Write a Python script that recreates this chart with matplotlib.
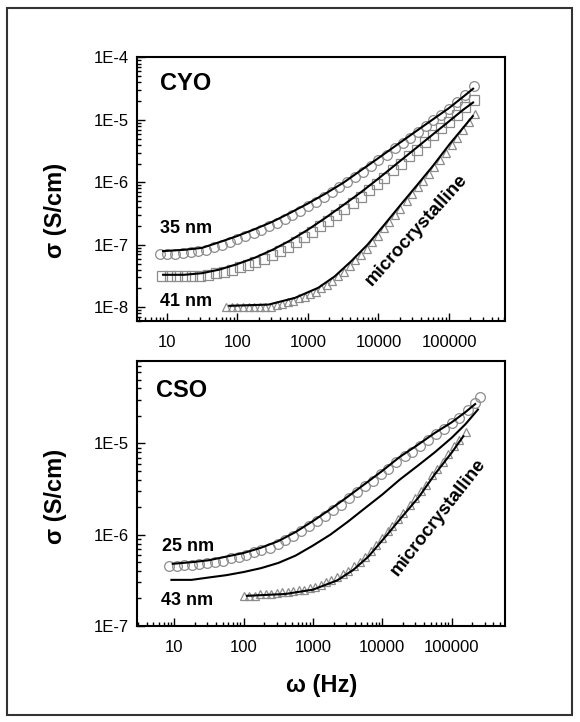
import math
import matplotlib
matplotlib.use("Agg")
import matplotlib.pyplot as plt
from matplotlib.patches import Rectangle
from matplotlib.ticker import FuncFormatter, LogLocator, NullFormatter

plt.rcParams['font.family'] = ['Liberation Sans', 'DejaVu Sans']

# ---------------- CYO panel (top) ----------------
# fit lines
fit_x = [8.9, 17.8, 31.6, 56, 100, 178, 316, 562, 1000, 1780, 3160, 5620, 10000,
         17800, 31600, 56200, 100000, 158000, 219000]
cyo35_fit_y = [7.9e-8, 8.3e-8, 8.9e-8, 1.10e-7, 1.38e-7, 1.78e-7, 2.34e-7, 3.24e-7, 4.57e-7,
               6.6e-7, 9.8e-7, 1.55e-6, 2.45e-6, 3.9e-6, 6.2e-6, 9.8e-6, 1.55e-5, 2.34e-5, 3.16e-5]
cyo41_fit_y = [3.3e-8, 3.3e-8, 3.5e-8, 4.0e-8, 4.9e-8, 6.2e-8, 8.3e-8, 1.17e-7, 1.74e-7,
               2.7e-7, 4.3e-7, 6.9e-7, 1.15e-6, 1.95e-6, 3.3e-6, 5.6e-6, 9.5e-6, 1.45e-5, 1.9e-5]

cyo_mc_fit_x = [77, 279, 658, 1400, 2390, 4080, 6980, 11900, 20400, 34900, 59700, 102000, 217000]
cyo_mc_fit_y = [1.05e-8, 1.1e-8, 1.41e-8, 2.04e-8, 3.1e-8, 5.4e-8, 1.0e-7, 2.04e-7, 4.3e-7,
                8.9e-7, 1.86e-6, 4.1e-6, 1.15e-5]

# measured points
cyo35_x = [8, 10, 13, 17, 22, 28, 36, 47, 60, 78, 100, 130, 170, 220, 280, 360, 470,
           600, 780, 1000, 1300, 1700, 2200, 2800, 3600, 4700, 6000, 7800, 10000, 13000,
           17000, 22000, 28000, 36000, 47000, 60000, 78000, 100000, 130000, 170000, 225000]
cyo35_y = [7.1e-8, 7.1e-8, 7.2e-8, 7.4e-8, 7.6e-8, 7.8e-8, 8.3e-8, 9.1e-8, 1.0e-7, 1.12e-7,
           1.23e-7, 1.38e-7, 1.55e-7, 1.74e-7, 2.0e-7, 2.24e-7, 2.57e-7, 3.0e-7, 3.5e-7, 4.1e-7,
           4.9e-7, 5.9e-7, 6.9e-7, 8.3e-7, 1.0e-6, 1.23e-6, 1.48e-6, 1.82e-6, 2.24e-6, 2.75e-6,
           3.5e-6, 4.3e-6, 5.2e-6, 6.5e-6, 7.9e-6, 1.0e-5, 1.2e-5, 1.48e-5, 1.9e-5, 2.5e-5, 3.5e-5]

cyo41_x = [8.5, 11, 14, 18, 23, 30, 39, 50, 65, 85, 110, 140, 180, 240, 310, 400, 520, 680,
           880, 1150, 1500, 1950, 2500, 3300, 4300, 5600, 7300, 9500, 12000, 16000, 21000,
           27000, 35000, 46000, 60000, 78000, 100000, 130000, 170000, 225000]
cyo41_y = [3.2e-8, 3.2e-8, 3.2e-8, 3.1e-8, 3.2e-8, 3.2e-8, 3.3e-8, 3.5e-8, 3.6e-8, 4.0e-8,
           4.4e-8, 4.8e-8, 5.2e-8, 6.0e-8, 6.8e-8, 7.9e-8, 9.3e-8, 1.1e-7, 1.32e-7, 1.62e-7,
           2.0e-7, 2.4e-7, 2.95e-7, 3.7e-7, 4.6e-7, 5.9e-7, 7.4e-7, 9.5e-7, 1.17e-6, 1.55e-6,
           2.0e-6, 2.6e-6, 3.3e-6, 4.4e-6, 5.75e-6, 7.4e-6, 9.3e-6, 1.2e-5, 1.58e-5, 2.1e-5]

cyo_mc_x = [70, 85, 100, 120, 145, 175, 210, 250, 300, 360, 430, 520, 620, 750, 900, 1080,
            1300, 1550, 1850, 2200, 2700, 3200, 3900, 4700, 5600, 6800, 8200, 9800, 12000,
            14000, 17000, 20000, 25000, 30000, 36000, 43000, 52000, 62000, 75000, 90000,
            110000, 130000, 160000, 190000, 230000]
cyo_mc_y = [1.0e-8, 1.0e-8, 1.0e-8, 1.02e-8, 1.02e-8, 1.02e-8, 1.02e-8, 1.02e-8, 1.02e-8,
            1.07e-8, 1.12e-8, 1.2e-8, 1.26e-8, 1.38e-8, 1.48e-8, 1.62e-8, 1.78e-8, 2.0e-8,
            2.3e-8, 2.6e-8, 3.1e-8, 3.7e-8, 4.6e-8, 5.6e-8, 6.9e-8, 8.5e-8, 1.1e-7, 1.38e-7,
            1.82e-7, 2.3e-7, 2.95e-7, 3.7e-7, 5.1e-7, 6.6e-7, 8.3e-7, 1.05e-6, 1.38e-6, 1.74e-6,
            2.3e-6, 2.95e-6, 4.0e-6, 5.1e-6, 6.9e-6, 9.3e-6, 1.26e-5]

# ---------------- CSO panel (bottom) ----------------
cso25_fit_x = [9.5, 17.8, 31.6, 56, 100, 178, 316, 562, 1000, 1780, 3160, 5620, 10000,
               17800, 31600, 56200, 100000, 158000, 219000]
cso25_fit_y = [4.8e-7, 5.0e-7, 5.25e-7, 5.75e-7, 6.3e-7, 7.2e-7, 8.5e-7, 1.07e-6, 1.41e-6,
               1.9e-6, 2.6e-6, 3.6e-6, 5.0e-6, 7.1e-6, 9.5e-6, 1.29e-5, 1.7e-5, 2.2e-5, 2.7e-5]

cso43_fit_x = [9.1, 17.8, 31.6, 56, 100, 178, 316, 562, 1000, 1780, 3160, 5620, 10000,
               17800, 31600, 56200, 100000, 158000, 240000]
cso43_fit_y = [3.2e-7, 3.2e-7, 3.4e-7, 3.6e-7, 3.9e-7, 4.3e-7, 4.9e-7, 5.9e-7, 7.6e-7,
               1.0e-6, 1.38e-6, 1.95e-6, 2.75e-6, 4.0e-6, 5.6e-6, 7.9e-6, 1.15e-5, 1.62e-5, 2.35e-5]

cso_mc_fit_x = [112, 398, 1000, 2240, 3800, 6300, 11500, 19000, 33900, 56200, 100000, 148000]
cso_mc_fit_y = [2.14e-7, 2.24e-7, 2.5e-7, 3.16e-7, 4.1e-7, 5.75e-7, 9.8e-7, 1.55e-6, 2.6e-6,
                4.5e-6, 7.9e-6, 1.2e-5]

cso25_x = [8.5, 11, 14, 18, 23, 30, 39, 50, 65, 85, 110, 140, 180, 240, 310, 400, 520, 680,
           880, 1150, 1500, 1950, 2500, 3300, 4300, 5600, 7300, 9500, 12000, 16000, 21000,
           27000, 35000, 46000, 60000, 78000, 100000, 130000, 170000, 220000, 260000]
cso25_y = [4.5e-7, 4.5e-7, 4.6e-7, 4.7e-7, 4.8e-7, 4.9e-7, 5.0e-7, 5.2e-7, 5.5e-7, 5.75e-7,
           6.0e-7, 6.5e-7, 6.8e-7, 7.2e-7, 7.9e-7, 8.7e-7, 9.8e-7, 1.1e-6, 1.23e-6, 1.41e-6,
           1.62e-6, 1.86e-6, 2.1e-6, 2.5e-6, 2.9e-6, 3.4e-6, 3.9e-6, 4.6e-6, 5.2e-6, 6.2e-6,
           7.2e-6, 8.1e-6, 9.3e-6, 1.1e-5, 1.26e-5, 1.45e-5, 1.66e-5, 1.9e-5, 2.35e-5, 2.8e-5, 3.2e-5]

cso_mc_x = [100, 120, 145, 175, 210, 250, 300, 360, 430, 520, 620, 750, 900, 1080, 1300,
            1550, 1850, 2200, 2700, 3200, 3900, 4700, 5600, 6800, 8200, 9800, 12000, 14000,
            17000, 20000, 25000, 30000, 36000, 43000, 52000, 62000, 75000, 90000, 110000,
            130000, 160000]
cso_mc_y = [2.14e-7, 2.14e-7, 2.14e-7, 2.24e-7, 2.24e-7, 2.24e-7, 2.3e-7, 2.35e-7, 2.35e-7,
            2.4e-7, 2.45e-7, 2.5e-7, 2.6e-7, 2.7e-7, 2.8e-7, 3.0e-7, 3.2e-7, 3.4e-7, 3.7e-7,
            4.0e-7, 4.5e-7, 5.0e-7, 5.75e-7, 6.6e-7, 7.8e-7, 9.1e-7, 1.1e-6, 1.26e-6, 1.48e-6,
            1.74e-6, 2.1e-6, 2.5e-6, 3.0e-6, 3.5e-6, 4.5e-6, 5.2e-6, 6.3e-6, 7.6e-6, 9.3e-6,
            1.1e-5, 1.35e-5]

x_ticks = [10, 100, 1000, 10000, 100000]
x_tick_labels = ['10', '100', '1000', '10000', '100000']

MK = dict(linestyle='none', markerfacecolor='none', markeredgecolor='#8c8c8c',
          markeredgewidth=0.9)
FIT = dict(color='black', linewidth=1.5)


def style_axis(ax, xlim, ylim):
    ax.set_xscale('log')
    ax.set_yscale('log')
    ax.set_xlim(*xlim)
    ax.set_ylim(*ylim)
    ax.set_xticks(x_ticks)
    ax.set_xticklabels(x_tick_labels)
    ax.xaxis.set_minor_locator(LogLocator(base=10, subs=range(2, 10), numticks=20))
    ax.xaxis.set_minor_formatter(NullFormatter())
    ax.yaxis.set_major_locator(LogLocator(base=10, numticks=20))
    ax.yaxis.set_minor_locator(LogLocator(base=10, subs=range(2, 10), numticks=20))
    ax.yaxis.set_major_formatter(FuncFormatter(lambda v, p: '1E%d' % round(math.log10(v))))
    ax.yaxis.set_minor_formatter(NullFormatter())
    ax.tick_params(which='both', direction='in', top=False, right=False, width=1)
    ax.tick_params(which='major', length=6, labelsize=12)
    ax.tick_params(which='minor', length=3)
    ax.tick_params(axis='x', pad=10)
    ax.tick_params(axis='y', pad=6)
    for s in ax.spines.values():
        s.set_linewidth(1.5)


fig = plt.figure(figsize=(5.8, 7.22), dpi=100)

ax1 = fig.add_axes([0.2362, 0.5554, 0.6345, 0.365])
ax1.plot(cyo35_x, cyo35_y, marker='o', markersize=7, **MK)
ax1.plot(cyo41_x, cyo41_y, marker='s', markersize=6.5, **MK)
ax1.plot(cyo_mc_x, cyo_mc_y, marker='^', markersize=5.5, **MK)
ax1.plot(fit_x, cyo35_fit_y, **FIT)
ax1.plot(fit_x, cyo41_fit_y, **FIT)
ax1.plot(cyo_mc_fit_x, cyo_mc_fit_y, **FIT)
style_axis(ax1, (3.8, 6.2e5), (6e-9, 1e-4))
ax1.text(0.133, 0.901, 'CYO', transform=ax1.transAxes, fontsize=17,
         fontweight='bold', ha='center', va='center')
ax1.text(8.1, 1.55e-7, '35 nm', fontsize=13, fontweight='bold', ha='left', va='baseline')
ax1.text(8.1, 1.06e-8, '41 nm', fontsize=13, fontweight='bold', ha='left', va='baseline')
ax1.text(0.758, 0.347, 'microcrystalline', transform=ax1.transAxes, fontsize=13.5,
         fontweight='bold', rotation=48, ha='center', va='center', rotation_mode='anchor')

ax2 = fig.add_axes([0.2362, 0.1330, 0.6345, 0.367])
ax2.plot(cso25_x, cso25_y, marker='o', markersize=7, **MK)
ax2.plot(cso_mc_x, cso_mc_y, marker='^', markersize=5.5, **MK)
ax2.plot(cso25_fit_x, cso25_fit_y, **FIT)
ax2.plot(cso43_fit_x, cso43_fit_y, **FIT)
ax2.plot(cso_mc_fit_x, cso_mc_fit_y, **FIT)
style_axis(ax2, (2.9, 5.9e5), (1e-7, 8e-5))
ax2.text(0.122, 0.889, 'CSO', transform=ax2.transAxes, fontsize=17,
         fontweight='bold', ha='center', va='center')
ax2.text(6.7, 6.7e-7, '25 nm', fontsize=13, fontweight='bold', ha='left', va='baseline')
ax2.text(6.5, 1.68e-7, '43 nm', fontsize=13, fontweight='bold', ha='left', va='baseline')
ax2.text(0.818, 0.409, 'microcrystalline', transform=ax2.transAxes, fontsize=13.5,
         fontweight='bold', rotation=52, ha='center', va='center', rotation_mode='anchor')

fig.text(0.0957, 0.708, 'σ (S/cm)', rotation=90, fontsize=17, fontweight='bold',
         ha='center', va='center')
fig.text(0.0957, 0.312, 'σ (S/cm)', rotation=90, fontsize=17, fontweight='bold',
         ha='center', va='center')
fig.text(0.555, 0.050, 'ω (Hz)', fontsize=17, fontweight='bold', ha='center', va='center')

fig.add_artist(Rectangle((7 / 580, 1 - 715 / 722), 565 / 580, 707 / 722,
                         transform=fig.transFigure, fill=False,
                         edgecolor='#333333', linewidth=1.5))

fig.savefig('out.png', dpi=100)
